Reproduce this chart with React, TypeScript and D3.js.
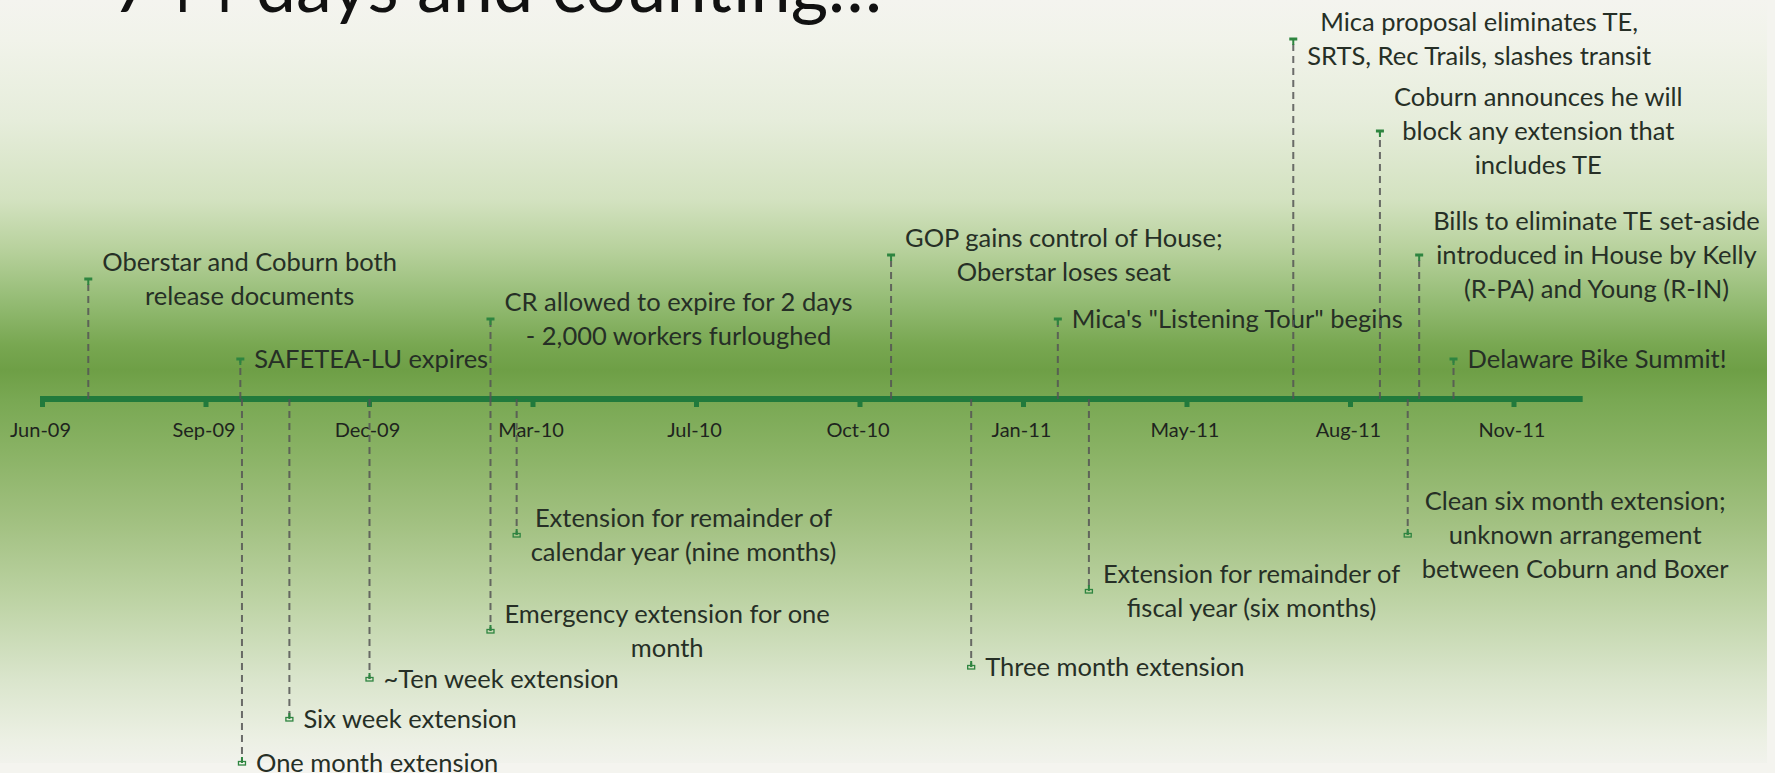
import React, { useEffect, useRef } from 'react';
import * as d3 from 'd3';

const W = 1775;
const H = 773;

const titleText = '744 days and counting…';

const axisStart = '2009-06-01';
const axisEnd = '2011-12-30';

const tickDates = [
  '2009-06-01', '2009-09-09', '2009-12-18', '2010-03-28', '2010-07-06',
  '2010-10-14', '2011-01-22', '2011-05-02', '2011-08-10', '2011-11-18',
];
const tickLabels = [
  'Jun-09', 'Sep-09', 'Dec-09', 'Mar-10', 'Jul-10',
  'Oct-10', 'Jan-11', 'May-11', 'Aug-11', 'Nov-11',
];

const eventDates = [
  '2009-06-29', '2009-09-30', '2009-10-01', '2009-10-30', '2009-12-18',
  '2010-03-02', '2010-03-02', '2010-03-18', '2010-11-02', '2010-12-21',
  '2011-02-12', '2011-03-03', '2011-07-06', '2011-08-28', '2011-09-14',
  '2011-09-21', '2011-10-12',
];
const eventValues = [
  3.0, 1.0, -9.1, -8.0, -7.0,
  2.0, -5.8, -3.4, 3.6, -6.7,
  2.0, -4.8, 9.0, 6.7, -3.4,
  3.6, 1.0,
];
const eventLabels = [
  'Oberstar and Coburn both\nrelease documents',
  'SAFETEA-LU expires',
  'One month extension',
  'Six week extension',
  '~Ten week extension',
  'CR allowed to expire for 2 days\n- 2,000 workers furloughed',
  'Emergency extension for one\nmonth',
  'Extension for remainder of\ncalendar year (nine months)',
  'GOP gains control of House;\nOberstar loses seat',
  'Three month extension',
  'Mica\'s "Listening Tour" begins',
  'Extension for remainder of\nfiscal year (six months)',
  'Mica proposal eliminates TE,\nSRTS, Rec Trails, slashes transit',
  'Coburn announces he will\nblock any extension that\nincludes TE',
  'Clean six month extension;\nunknown arrangement\nbetween Coburn and Boxer',
  'Bills to eliminate TE set-aside\nintroduced in House by Kelly\n(R-PA) and Young (R-IN)',
  'Delaware Bike Summit!',
];

const FONT = 'Lato, "Open Sans", sans-serif';

export default function App() {
  const ref = useRef<SVGSVGElement>(null);

  useEffect(() => {
    const draw = () => {
      const svg = d3.select(ref.current);
      svg.selectAll('*').remove();

      const parse = d3.utcParse('%Y-%m-%d');
      const x = d3
        .scaleUtc()
        .domain([parse(axisStart)!, parse(axisEnd)!])
        .range([42.5, 42.5 + 942 * 1.635]);
      const y = d3.scaleLinear().domain([-10, 10]).range([799, -1]);
      const y0 = y(0);

      // background
      const defs = svg.append('defs');
      const grad = defs
        .append('linearGradient')
        .attr('id', 'bg')
        .attr('x1', 0)
        .attr('y1', 0)
        .attr('x2', 0)
        .attr('y2', 1);
      const stops: [number, string][] = [
        [0, '#f4f4ef'],
        [40, '#f1f3ea'],
        [120, '#e6eddb'],
        [200, '#d3e2c0'],
        [250, '#b7d19c'],
        [300, '#95bc75'],
        [345, '#78a751'],
        [370, '#6e9f46'],
        [400, '#79a853'],
        [450, '#89b264'],
        [520, '#a1c080'],
        [600, '#bdd3a4'],
        [680, '#dae5cc'],
        [740, '#ecf0e4'],
        [763, '#f1f2ec'],
      ];
      stops.forEach(([o, c]) =>
        grad.append('stop').attr('offset', o / 763).attr('stop-color', c)
      );
      svg.append('rect').attr('width', W).attr('height', H).attr('fill', '#f4f4ef');
      svg.append('rect').attr('width', 1767).attr('height', 763).attr('fill', 'url(#bg)');

      // title (mostly cut off at the top, as in the slide)
      svg
        .append('text')
        .attr('x', 112)
        .attr('y', 12)
        .attr('font-family', FONT)
        .attr('font-size', 72)
        .attr('fill', '#111')
        .text(titleText);

      // axis line
      svg
        .append('rect')
        .attr('x', x.range()[0] - 2.5)
        .attr('y', y0 - 3)
        .attr('width', x.range()[1] - x.range()[0] + 2.5)
        .attr('height', 6)
        .attr('fill', '#217a3c');

      // ticks
      const tg = svg.append('g');
      tickDates.forEach((d, i) => {
        const tx = x(parse(d)!);
        tg.append('rect')
          .attr('x', tx - 2.5)
          .attr('y', y0 + 2)
          .attr('width', 5)
          .attr('height', 6)
          .attr('fill', '#217a3c');
        tg.append('text')
          .attr('x', tx - 2)
          .attr('y', y0 + 38)
          .attr('text-anchor', 'middle')
          .attr('font-family', FONT)
          .attr('font-size', 20)
          .attr('fill', '#1e241e')
          .text(tickLabels[i]);
      });

      const fs = 25.5;
      const lineH = 34;
      const gap = 14;
      const green = '#2e8540';

      eventDates.forEach((d, i) => {
        const ex = x(parse(d)!);
        const ey = y(eventValues[i]);
        const up = eventValues[i] > 0;
        // dashed drop line
        svg
          .append('line')
          .attr('x1', ex)
          .attr('x2', ex)
          .attr('y1', y0)
          .attr('y2', ey)
          .attr('stroke', '#555')
          .attr('stroke-opacity', 0.85)
          .attr('stroke-width', 2)
          .attr('stroke-dasharray', '7,5');
        // marker
        if (up) {
          svg.append('rect').attr('x', ex - 4).attr('y', ey - 1.5).attr('width', 8).attr('height', 3).attr('fill', green);
          svg.append('rect').attr('x', ex - 1).attr('y', ey).attr('width', 2).attr('height', 6).attr('fill', green);
        } else {
          svg.append('rect').attr('x', ex - 1).attr('y', ey - 6).attr('width', 2).attr('height', 6).attr('fill', green);
          svg
            .append('rect')
            .attr('x', ex - 3.5)
            .attr('y', ey - 1.5)
            .attr('width', 7)
            .attr('height', 3.5)
            .attr('fill', 'none')
            .attr('stroke', green)
            .attr('stroke-width', 1.3);
        }
        // label: lines centred within a block that starts right of the marker
        const lines = eventLabels[i].split('\n');
        const g = svg.append('g');
        const firstC = ey - ((lines.length - 1) * lineH) / 2;
        const texts = lines.map((ln, k) =>
          g
            .append('text')
            .attr('x', ex + gap)
            .attr('y', firstC + k * lineH + fs * 0.36)
            .attr('font-family', FONT)
            .attr('font-size', fs)
            .attr('fill', '#262f26')
            .text(ln)
        );
        const widths = texts.map((t) => (t.node() as SVGTextElement).getComputedTextLength());
        const maxW = Math.max(...widths);
        texts.forEach((t, k) => t.attr('x', ex + gap + (maxW - widths[k]) / 2));
      });
    };
    draw();
    if ((document as any).fonts && (document as any).fonts.ready) {
      (document as any).fonts.ready.then(draw);
    }
  }, []);

  return (
    <svg
      ref={ref}
      width={W}
      height={H}
      style={{ position: 'absolute', left: 0, top: 0, display: 'block' }}
    />
  );
}
